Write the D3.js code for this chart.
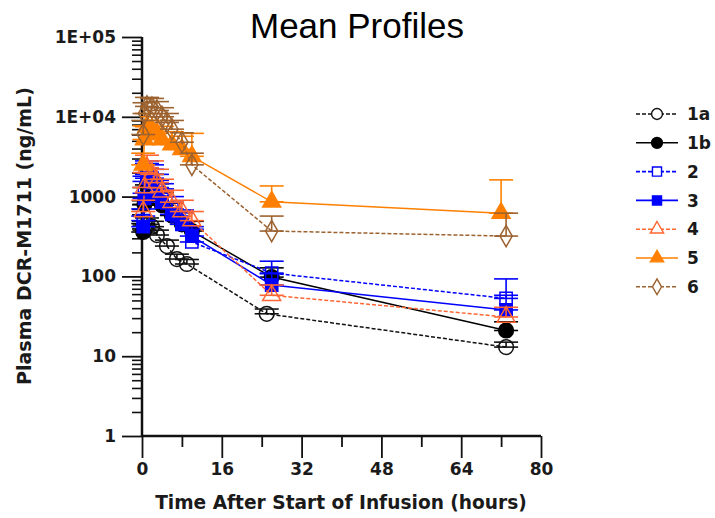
<!DOCTYPE html>
<html>
<head>
<meta charset="utf-8">
<script src="https://cdn.jsdelivr.net/npm/d3@7"></script>
<style>
  body { margin: 0; background: #fff; }
  svg text { font-family: "DejaVu Sans", Verdana, sans-serif; }
</style>
</head>
<body>
<script>
// tick values / labels
let yTicks = [1, 10, 100, 1000, 10000, 100000];
let yTickLabels = ['1', '10', '100', '1000', '1E+04', '1E+05'];
let xTicks = [0, 16, 32, 48, 64, 80];
let xMinor = [8, 24, 40, 56, 72];

// series names
let seriesNames = ['1a', '1b', '2', '3', '4', '5', '6'];

// times (hours), means (ng/mL), SD
let t1a = [0.5, 1, 2, 3, 5, 7, 9, 25, 73];
let c1a = [380, 450, 420, 330, 240, 165, 143, 34, 13];
let sd1a = [60, 90, 70, 50, 45, 25, 20, 5, 2];

let t1b = [0.25, 0.5, 1, 2, 3, 4, 6, 8, 10, 26, 73];
let c1b = [360, 800, 1400, 1200, 950, 780, 580, 450, 370, 98, 21];
let sd1b = [100, 500, 900, 700, 500, 350, 250, 180, 120, 30, 6];

let t2 = [0.25, 0.5, 1, 2, 3, 4, 6, 8, 10, 26, 73];
let c2 = [500, 1100, 1900, 1700, 1300, 1000, 700, 480, 270, 110, 53];
let sd2 = [200, 700, 900, 800, 600, 450, 300, 200, 120, 45, 40];

let t3 = [0.25, 0.5, 1, 2, 3, 4, 6, 8, 10, 26, 73];
let c3 = [420, 950, 1700, 1500, 1100, 850, 600, 450, 320, 78, 38];
let sd3 = [150, 600, 900, 700, 500, 400, 250, 180, 100, 30, 20];

let t4 = [0.25, 0.5, 1, 2, 3, 4, 6, 8, 10, 26, 73];
let c4 = [650, 1300, 2300, 1900, 1500, 1150, 850, 650, 500, 58, 31];
let sd4 = [250, 700, 1000, 900, 700, 500, 350, 250, 150, 20, 10];

let t5 = [0.25, 0.5, 1, 2, 3, 4, 6, 8, 10, 26, 72];
let c5 = [2500, 5200, 7500, 7000, 6200, 5200, 4500, 3900, 3200, 860, 620];
let sd5 = [1000, 2500, 3500, 3000, 2800, 2400, 2000, 1800, 3000, 500, 1000];

let t6 = [0.25, 0.5, 1, 2, 3, 4, 5, 6, 8, 10, 26, 73];
let c6 = [6000, 11000, 13500, 13000, 12000, 10000, 8500, 7000, 4800, 2500, 370, 320];
let sd6 = [3000, 4000, 4000, 4000, 3500, 3000, 2500, 2000, 1500, 1000, 200, 300];

let times = [t1a, t1b, t2, t3, t4, t5, t6];
let means = [c1a, c1b, c2, c3, c4, c5, c6];
let sds = [sd1a, sd1b, sd2, sd3, sd4, sd5, sd6];

// styles
let colors = ['#111111', '#000000', '#0000ff', '#0000ff', '#ff6633', '#ff8000', '#9c6230'];
let dashed = [true, false, true, false, true, false, true];
let shapes = [d3.symbolCircle, d3.symbolCircle, d3.symbolSquare, d3.symbolSquare,
              d3.symbolTriangle, d3.symbolTriangle, d3.symbolDiamond];
let filled = [false, true, false, true, false, true, false];

let series = seriesNames.map(function(name, i) {
  return {
    name: name, color: colors[i], dashed: dashed[i], shape: shapes[i], filled: filled[i],
    points: times[i].map(function(t, j) { return { t: t, c: means[i][j], sd: sds[i][j] }; })
  };
});

let svg = d3.select('body').append('svg')
  .attr('width', 715).attr('height', 518);

let x = d3.scaleLinear().domain([0, 80]).range([142, 541]);
let y = d3.scaleLog().domain([1, 100000]).range([436, 37]);

// title
svg.append('text')
  .attr('x', 357).attr('y', 38)
  .attr('text-anchor', 'middle')
  .style('font-family', '"Liberation Sans", Arial, sans-serif')
  .style('font-size', '35px')
  .text('Mean Profiles');

// y minor ticks
let yMinor = [];
yTicks.slice(0, -1).forEach(function(d) { for (let k = 2; k < 10; k++) yMinor.push(d * k); });

let axisColor = '#111';

svg.append('g')
  .attr('transform', 'translate(142,0)')
  .call(d3.axisLeft(y).tickValues(yMinor).tickSize(10).tickFormat(''))
  .call(function(g) { g.select('.domain').remove(); })
  .selectAll('line').attr('stroke', axisColor).attr('stroke-width', 1.6);

let yAxis = svg.append('g')
  .attr('transform', 'translate(142,0)')
  .call(d3.axisLeft(y).tickValues(yTicks).tickSize(20).tickPadding(6)
    .tickFormat(function(d, i) { return yTickLabels[i]; }));
yAxis.select('.domain').attr('stroke', axisColor).attr('stroke-width', 2.5)
  .attr('d', 'M0,37V436');
yAxis.selectAll('line').attr('stroke', axisColor).attr('stroke-width', 1.8);
yAxis.selectAll('text').style('font-size', '17px').style('font-weight', 'bold').attr('fill', '#1a1a1a');

svg.append('g')
  .attr('transform', 'translate(0,436)')
  .call(d3.axisBottom(x).tickValues(xMinor).tickSize(11).tickFormat(''))
  .call(function(g) { g.select('.domain').remove(); })
  .selectAll('line').attr('stroke', axisColor).attr('stroke-width', 1.8);

let xAxis = svg.append('g')
  .attr('transform', 'translate(0,436)')
  .call(d3.axisBottom(x).tickValues(xTicks).tickSize(22).tickPadding(5));
xAxis.select('.domain').attr('stroke', axisColor).attr('stroke-width', 2.5)
  .attr('d', 'M142,0H541');
xAxis.selectAll('line').attr('stroke', axisColor).attr('stroke-width', 1.8);
xAxis.selectAll('text').style('font-size', '17px').style('font-weight', 'bold').attr('fill', '#1a1a1a');

// axis titles
svg.append('text')
  .attr('transform', 'translate(24,236) rotate(-90)')
  .attr('text-anchor', 'middle').attr('dominant-baseline', 'central')
  .style('font-size', '19px').style('font-weight', 'bold').attr('fill', '#1a1a1a')
  .text('Plasma DCR-M1711 (ng/mL)');

svg.append('text')
  .attr('x', 341).attr('y', 509)
  .attr('text-anchor', 'middle')
  .style('font-size', '18.6px').style('font-weight', 'bold').attr('fill', '#1a1a1a')
  .text('Time After Start of Infusion (hours)');

// data
let line = d3.line().x(function(d) { return x(d.t); }).y(function(d) { return y(d.c); });
let symbolSize = function(s) {
  if (s.shape === d3.symbolCircle) return 170;
  if (s.shape === d3.symbolSquare) return 150;
  if (s.shape === d3.symbolTriangle) return 140;
  return 130;
};

let groups = svg.selectAll('g.series')
  .data(series)
  .enter().append('g').attr('class', 'series');

groups.append('path')
  .attr('d', function(s) { return line(s.points); })
  .attr('fill', 'none')
  .attr('stroke', function(s) { return s.color; })
  .attr('stroke-width', 1.5)
  .attr('stroke-dasharray', function(s) { return s.dashed ? '4,2' : null; });

groups.each(function(s) {
  let g = d3.select(this);
  let eb = g.selectAll('g.eb').data(s.points).enter().append('g').attr('class', 'eb')
    .attr('stroke', s.color).attr('stroke-width', 1.6);
  eb.append('line')
    .attr('x1', function(d) { return x(d.t); }).attr('x2', function(d) { return x(d.t); })
    .attr('y1', function(d) { return y(d.c); }).attr('y2', function(d) { return y(d.c + d.sd); });
  eb.append('line')
    .attr('x1', function(d) { return x(d.t) - 12; }).attr('x2', function(d) { return x(d.t) + 12; })
    .attr('y1', function(d) { return y(d.c + d.sd); }).attr('y2', function(d) { return y(d.c + d.sd); });
  eb.append('line')
    .attr('x1', function(d) { return x(d.t) - 12; }).attr('x2', function(d) { return x(d.t) + 12; })
    .attr('y1', function(d) { return y(d.c); }).attr('y2', function(d) { return y(d.c); });

  g.selectAll('path.pt').data(s.points).enter().append('path').attr('class', 'pt')
    .attr('transform', function(d) { return 'translate(' + x(d.t) + ',' + y(d.c) + ')'; })
    .attr('d', d3.symbol().type(s.shape).size(symbolSize(s)))
    .attr('fill', s.filled ? s.color : 'none')
    .attr('stroke', s.color).attr('stroke-width', 1.5);
});

// legend
let legend = svg.selectAll('g.legend')
  .data(series)
  .enter().append('g').attr('class', 'legend')
  .attr('transform', function(s, i) { return 'translate(636,' + (114 + i * 28.8) + ')'; });

legend.append('line')
  .attr('x1', 0).attr('x2', 42).attr('y1', 0).attr('y2', 0)
  .attr('stroke', function(s) { return s.color; })
  .attr('stroke-width', 1.6)
  .attr('stroke-dasharray', function(s) { return s.dashed ? '4,2' : null; });

legend.append('path')
  .attr('transform', 'translate(21,0)')
  .attr('d', function(s) { return d3.symbol().type(s.shape).size(symbolSize(s) * 0.55)(); })
  .attr('fill', function(s) { return s.filled ? s.color : '#fff'; })
  .attr('stroke', function(s) { return s.color; })
  .attr('stroke-width', 1.4);

legend.append('text')
  .attr('x', 51).attr('y', 0).attr('dy', '0.36em')
  .style('font-size', '17px').style('font-weight', 'bold').attr('fill', '#1a1a1a')
  .text(function(s) { return s.name; });
</script>
</body>
</html>
